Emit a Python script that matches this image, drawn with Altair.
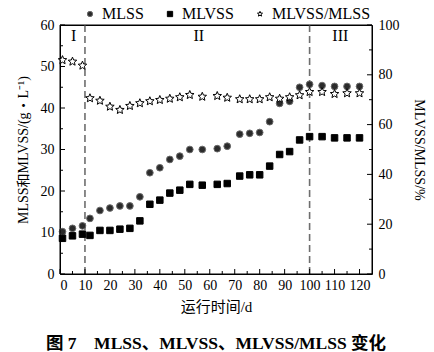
import altair as alt
import pandas as pd

# ---------------- data ----------------
days = [1, 5, 9, 12, 16, 20, 24, 28, 32, 36, 40, 44, 48, 52, 57, 63, 67, 72, 76, 80,
        84, 88, 92, 96, 100, 105, 110, 115, 120]
mlss = [10.2, 11.0, 11.6, 13.4, 15.3, 15.9, 16.4, 16.4, 18.6, 24.4, 25.6, 27.6, 28.4, 30.0,
        30.0, 30.2, 30.8, 33.7, 33.9, 34.1, 36.7, 41.1, 41.6, 45.0, 45.7, 45.4, 45.2, 45.2, 45.2]
mlvss = [8.6, 9.2, 9.6, 9.3, 10.5, 10.5, 10.8, 11.0, 12.8, 16.8, 17.8, 19.5, 20.2, 21.6,
         21.4, 21.6, 21.8, 23.6, 23.9, 23.9, 26.0, 28.8, 29.5, 32.3, 33.1, 33.1, 32.8, 32.8, 32.8]
ratio = [85.9, 85.3, 83.7, 70.6, 69.6, 67.2, 65.9, 67.5, 68.6, 69.4, 69.9, 70.4, 71.0, 71.9,
         71.2, 71.5, 70.8, 70.2, 70.2, 70.2, 71.0, 70.4, 71.0, 71.8, 73.1, 73.1, 72.3, 72.6, 72.6]

series_names = ["MLSS", "MLVSS", "MLVSS/MLSS"]
x_major = list(range(0, 121, 10))
x_minor = list(range(5, 121, 10))
left_major = list(range(0, 61, 10))
left_minor = list(range(5, 60, 10))
right_major = list(range(0, 101, 20))
right_minor = list(range(10, 100, 20))
phase_lines = [10, 100]
phase_labels = ["I", "II", "III"]
phase_label_x = [5.5, 55.6, 112.3]
phase_label_y = [57.3, 57.3, 57.3]

caption = "图 7\u3000MLSS、MLVSS、MLVSS/MLSS 变化"

FONT = "Liberation Serif, Noto Sans CJK SC"
W, H = 312, 249

STAR = ("M0,-1L0.265,-0.364L0.951,-0.309L0.428,0.139L0.588,0.809L0,0.45"
        "L-0.588,0.809L-0.428,0.139L-0.951,-0.309L-0.265,-0.364Z")

n = len(days)
df_all = pd.DataFrame({"day": days * 3, "value": mlss + mlvss + ratio,
                       "series": ["MLSS"] * n + ["MLVSS"] * n + ["MLVSS/MLSS"] * n})

x_scale = alt.Scale(domain=[0, 125], nice=False, zero=False)
yl_scale = alt.Scale(domain=[0, 60], nice=False)
yr_scale = alt.Scale(domain=[0, 100], nice=False)

shape_scale = alt.Scale(domain=series_names, range=["circle", "square", STAR])
fill_scale = alt.Scale(domain=series_names, range=["#2b2b2b", "#000000", "#ffffff"])
stroke_scale = alt.Scale(domain=series_names, range=["#6a6a6a", "#000000", "#000000"])

legend = alt.Legend(title=None, orient="none", legendX=22, legendY=-19,
                    direction="horizontal", labelFont=FONT, labelFontSize=16,
                    labelColor="black", symbolSize=28, columnPadding=18, labelOffset=4,
                    symbolStrokeWidth=1)

x_axis = alt.Axis(values=x_major, labelFont=FONT, labelFontSize=14, labelColor="black",
                  domain=False, ticks=False, grid=False, labelPadding=4,
                  title="运行时间/d", titleFont=FONT, titleFontSize=15,
                  titleFontWeight="normal", titleColor="black", titlePadding=7)

yl_axis = alt.Axis(orient="left", values=left_major, labelFont=FONT, labelFontSize=14,
                   labelColor="black", domain=False, ticks=False, grid=False,
                   labelPadding=6, title="MLSS和MLVSS/(g・L⁻¹)", titleFont=FONT,
                   titleFontSize=14, titleFontWeight="normal", titleColor="black",
                   titlePadding=10)

yr_axis = alt.Axis(orient="right", values=right_major, labelFont=FONT,
                   labelFontSize=14, labelColor="black", domain=False, ticks=False,
                   grid=False, labelPadding=6, title="MLVSS/MLSS/%", titleFont=FONT,
                   titleFontSize=14, titleFontWeight="normal", titleColor="black",
                   titlePadding=12)


def points(name, size, y_scale, y_axis):
    return alt.Chart(df_all).mark_point(opacity=1, strokeWidth=1, size=size).transform_filter(
        alt.FieldEqualPredicate(field="series", equal=name)
    ).encode(
        x=alt.X("day:Q", scale=x_scale, axis=x_axis),
        y=alt.Y("value:Q", scale=y_scale, axis=y_axis),
        shape=alt.Shape("series:N", scale=shape_scale, legend=legend),
        fill=alt.Fill("series:N", scale=fill_scale, legend=legend),
        stroke=alt.Stroke("series:N", scale=stroke_scale, legend=legend),
    )


def xticks(vals, ln):
    return alt.Chart(pd.DataFrame({"t": vals})).mark_rule(color="black", strokeWidth=1).encode(
        x=alt.X("t:Q", scale=x_scale, axis=x_axis),
        y=alt.value(H), y2=alt.value(H - ln))


def lticks(vals, ln):
    return alt.Chart(pd.DataFrame({"t": vals})).mark_rule(color="black", strokeWidth=1).encode(
        y=alt.Y("t:Q", scale=yl_scale, axis=yl_axis),
        x=alt.value(0), x2=alt.value(ln))


def rticks(vals, ln):
    return alt.Chart(pd.DataFrame({"t": vals})).mark_rule(color="black", strokeWidth=1).encode(
        y=alt.Y("t:Q", scale=yr_scale, axis=yr_axis),
        x=alt.value(W), x2=alt.value(W - ln))


dashes = alt.Chart(pd.DataFrame({"d": phase_lines})).mark_rule(
    color="#6e6e6e", strokeWidth=1.6, strokeDash=[7, 4]).encode(
    x=alt.X("d:Q", scale=x_scale, axis=x_axis))

phase_text = alt.Chart(pd.DataFrame({"x": phase_label_x, "y": phase_label_y,
                                     "t": phase_labels})).mark_text(
    font=FONT, fontSize=16, color="black").encode(
    x=alt.X("x:Q", scale=x_scale, axis=x_axis),
    y=alt.Y("y:Q", scale=yl_scale, axis=yl_axis),
    text="t:N")

frame = alt.Chart(pd.DataFrame({"k": [0]})).mark_rect(
    fill="white", fillOpacity=0, stroke="black", strokeWidth=1).encode(
    x=alt.value(0), x2=alt.value(W), y=alt.value(0), y2=alt.value(H))

left_group = alt.layer(
    dashes, xticks(x_major, 5), xticks(x_minor, 3),
    lticks(left_major, 5), lticks(left_minor, 3), phase_text,
    points("MLSS", 45, yl_scale, yl_axis), points("MLVSS", 42, yl_scale, yl_axis),
)
right_group = alt.layer(
    rticks(right_major, 5), rticks(right_minor, 3),
    points("MLVSS/MLSS", 80, yr_scale, yr_axis), frame,
)

chart = alt.layer(left_group, right_group).resolve_scale(y="independent").properties(
    width=W, height=H,
    autosize=alt.AutoSizeParams(type="none"),
    padding={"left": 60, "top": 25, "right": 62, "bottom": 78},
    title=alt.TitleParams(text=caption, orient="bottom", anchor="middle", font=FONT,
                          fontSize=17.5, fontWeight="bold", color="black", offset=21),
).configure(background="white").configure_view(stroke="black", strokeWidth=1)

chart.save("out.html", embed_options={"renderer": "svg", "actions": False})
